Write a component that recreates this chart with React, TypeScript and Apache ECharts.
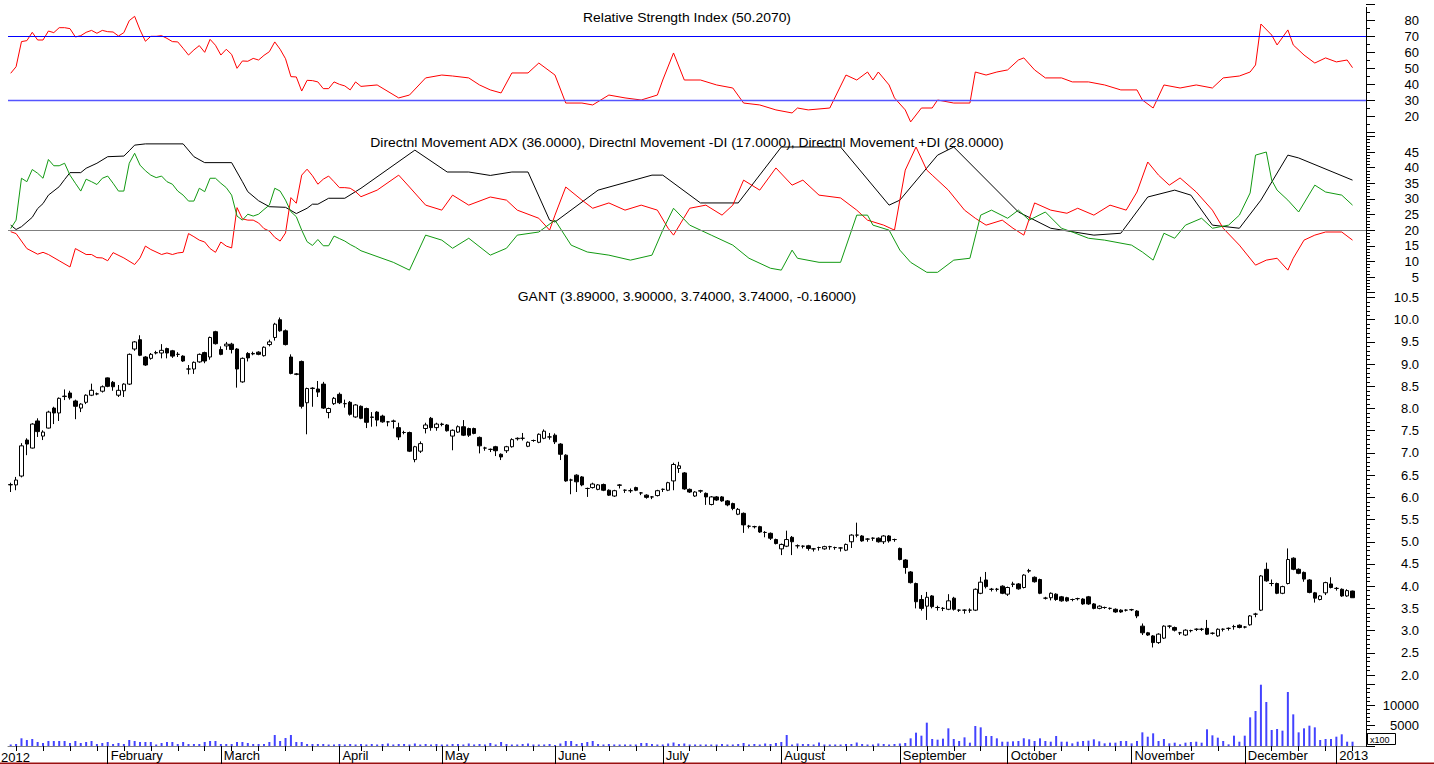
import React, { useEffect, useRef } from "react";
import * as echarts from "echarts";

// ---------- categories / calendar ----------
const SLOTS = 252; // 250 trading days + 2 empty slots before the axis
const monthIdx = [18, 39, 61, 80, 101, 121, 143, 165, 185, 208, 229, 246];
const monthNames = ["February", "March", "April", "May", "June", "July", "August", "September", "October", "November", "December", "2013"];
const weekIdx = [1, 6, 11, 16, 21, 26, 31, 36, 41, 46, 51, 56, 65, 69, 74, 79, 83, 88, 92, 97, 106, 111, 116, 126, 131, 136, 141, 146, 151, 155, 160, 170, 175, 180, 190, 195, 200, 205, 210, 215, 219, 224, 234, 239, 244, 249];

// ---------- price: [open, close, low, high] ----------
const candles: number[][] = [
  [6.28, 6.29, 6.12, 6.33], [6.28, 6.39, 6.16, 6.46], [6.48, 7.16, 6.45, 7.22], [7.29, 7.2, 6.95, 7.33], [7.11, 7.65, 7.1, 7.67],
  [7.72, 7.48, 7.36, 7.78], [7.38, 7.47, 7.29, 7.51], [7.56, 7.92, 7.55, 7.95], [8.01, 7.9, 7.65, 8.04], [7.9, 8.23, 7.72, 8.25],
  [8.27, 8.28, 8.19, 8.43], [8.35, 8.24, 8.2, 8.4], [8.17, 8.05, 7.76, 8.2], [8.01, 8.1, 7.92, 8.12], [8.14, 8.3, 8.1, 8.32],
  [8.3, 8.41, 8.28, 8.56], [8.33, 8.33, 8.3, 8.36], [8.39, 8.49, 8.36, 8.52], [8.69, 8.5, 8.48, 8.7], [8.59, 8.49, 8.4, 8.62],
  [8.3, 8.41, 8.26, 8.53], [8.4, 8.55, 8.26, 8.57], [8.55, 9.22, 8.53, 9.24], [9.34, 9.5, 9.3, 9.52], [9.55, 9.2, 9.18, 9.65],
  [9.16, 8.98, 8.96, 9.18], [9.13, 9.22, 9.1, 9.25], [9.25, 9.26, 9.22, 9.3], [9.25, 9.31, 9.13, 9.45], [9.35, 9.25, 9.13, 9.37],
  [9.3, 9.18, 9.14, 9.32], [9.22, 9.22, 9.16, 9.27], [9.18, 9.07, 9.05, 9.2], [8.89, 8.89, 8.77, 8.98], [8.89, 9.04, 8.78, 9.06],
  [9.05, 9.22, 9.03, 9.24], [9.26, 9.07, 9.02, 9.28], [9.16, 9.6, 9.1, 9.62], [9.73, 9.46, 9.44, 9.75], [9.33, 9.22, 9.2, 9.4],
  [9.41, 9.45, 9.32, 9.5], [9.45, 9.33, 9.24, 9.48], [9.34, 8.89, 8.47, 9.36], [8.6, 9.13, 8.58, 9.15], [9.24, 9.14, 9.06, 9.27],
  [9.23, 9.24, 9.2, 9.28], [9.27, 9.22, 9.2, 9.29], [9.19, 9.38, 9.17, 9.4], [9.44, 9.5, 9.4, 9.55], [9.6, 9.9, 9.53, 9.93],
  [10.0, 9.75, 9.73, 10.05], [9.75, 9.44, 9.42, 9.78], [9.16, 8.79, 8.77, 9.22], [8.78, 8.77, 8.75, 8.8], [9.06, 8.05, 8.0, 9.08],
  [8.13, 8.45, 7.42, 8.47], [8.45, 8.46, 8.04, 8.48], [8.44, 8.37, 8.26, 8.62], [8.55, 8.01, 7.99, 8.6], [7.91, 8.0, 7.78, 8.02],
  [8.11, 8.23, 8.08, 8.26], [8.32, 8.13, 8.1, 8.36], [8.11, 8.11, 8.02, 8.2], [8.14, 7.87, 7.84, 8.17], [7.81, 8.08, 7.79, 8.1],
  [8.05, 7.78, 7.76, 8.07], [8.0, 7.69, 7.56, 8.02], [7.8, 7.81, 7.59, 7.92], [7.92, 7.74, 7.6, 7.94], [7.83, 7.7, 7.68, 7.86],
  [7.7, 7.7, 7.6, 7.72], [7.71, 7.72, 7.55, 7.75], [7.57, 7.36, 7.29, 7.68], [7.46, 7.46, 7.42, 7.5], [7.46, 7.04, 7.02, 7.48],
  [6.85, 7.14, 6.79, 7.16], [7.04, 7.21, 7.0, 7.26], [7.55, 7.63, 7.44, 7.68], [7.78, 7.57, 7.5, 7.81], [7.57, 7.65, 7.5, 7.68],
  [7.64, 7.65, 7.6, 7.68], [7.63, 7.5, 7.48, 7.65], [7.38, 7.51, 7.06, 7.53], [7.47, 7.59, 7.45, 7.62], [7.59, 7.4, 7.38, 7.74],
  [7.55, 7.4, 7.36, 7.57], [7.55, 7.44, 7.42, 7.57], [7.35, 7.16, 6.99, 7.37], [7.11, 7.11, 7.05, 7.14], [7.08, 7.08, 7.02, 7.1],
  [7.14, 7.05, 6.93, 7.16], [6.97, 6.91, 6.84, 6.99], [7.05, 7.14, 7.0, 7.16], [7.14, 7.3, 7.12, 7.33], [7.32, 7.33, 7.28, 7.35],
  [7.33, 7.33, 7.28, 7.45], [7.15, 7.24, 7.13, 7.26], [7.28, 7.28, 7.25, 7.3], [7.24, 7.42, 7.22, 7.44], [7.33, 7.49, 7.31, 7.53],
  [7.36, 7.36, 7.3, 7.45], [7.4, 7.25, 7.2, 7.44], [7.2, 6.97, 6.84, 7.22], [6.95, 6.37, 6.35, 6.97], [6.39, 6.39, 6.07, 6.42],
  [6.5, 6.35, 6.12, 6.52], [6.46, 6.28, 6.25, 6.48], [6.2, 6.2, 6.01, 6.22], [6.22, 6.3, 6.2, 6.33], [6.18, 6.28, 6.16, 6.3],
  [6.29, 6.16, 6.14, 6.31], [6.16, 6.05, 6.03, 6.18], [6.03, 6.15, 6.01, 6.17], [6.27, 6.28, 6.2, 6.3], [6.16, 6.16, 6.1, 6.18],
  [6.15, 6.15, 6.1, 6.2], [6.22, 6.16, 6.14, 6.24], [6.1, 6.1, 6.05, 6.12], [6.05, 6.0, 5.97, 6.07], [6.01, 6.01, 5.96, 6.03],
  [6.04, 6.15, 6.02, 6.17], [6.18, 6.18, 6.12, 6.2], [6.16, 6.33, 6.14, 6.35], [6.37, 6.74, 6.16, 6.78], [6.65, 6.71, 6.55, 6.8],
  [6.55, 6.19, 6.17, 6.57], [6.18, 6.12, 6.1, 6.2], [6.03, 6.12, 6.01, 6.14], [6.14, 6.15, 6.1, 6.17], [6.09, 6.01, 5.83, 6.11],
  [5.84, 6.01, 5.82, 6.03], [6.01, 5.94, 5.92, 6.03], [6.01, 5.92, 5.9, 6.03], [5.92, 5.83, 5.8, 5.94], [5.86, 5.75, 5.71, 5.88],
  [5.62, 5.73, 5.6, 5.76], [5.64, 5.38, 5.2, 5.66], [5.35, 5.35, 5.3, 5.38], [5.34, 5.34, 5.3, 5.36], [5.34, 5.22, 5.2, 5.36],
  [5.21, 5.21, 5.1, 5.24], [5.19, 5.08, 5.04, 5.21], [5.05, 4.96, 4.94, 5.07], [4.84, 4.94, 4.7, 4.96], [4.9, 5.05, 4.88, 5.25],
  [5.1, 5.0, 4.7, 5.13], [4.91, 4.91, 4.85, 4.94], [4.9, 4.9, 4.85, 4.92], [4.91, 4.85, 4.8, 4.93], [4.84, 4.84, 4.78, 4.86],
  [4.87, 4.87, 4.8, 4.89], [4.84, 4.89, 4.82, 4.91], [4.89, 4.89, 4.82, 4.91], [4.87, 4.87, 4.82, 4.89], [4.86, 4.86, 4.78, 4.88],
  [4.81, 4.94, 4.79, 4.96], [5.0, 5.15, 4.86, 5.17], [5.15, 5.15, 5.1, 5.43], [5.13, 5.02, 5.0, 5.15], [5.06, 5.06, 5.0, 5.08],
  [5.08, 5.08, 5.02, 5.1], [5.08, 5.0, 4.98, 5.1], [5.0, 5.13, 4.95, 5.15], [5.13, 5.02, 4.98, 5.15], [5.05, 5.05, 5.0, 5.07],
  [4.85, 4.6, 4.58, 4.87], [4.59, 4.42, 4.28, 4.61], [4.32, 4.08, 4.06, 4.34], [4.06, 3.65, 3.5, 4.08], [3.7, 3.5, 3.45, 3.8],
  [3.55, 3.75, 3.24, 3.87], [3.78, 3.54, 3.5, 3.8], [3.52, 3.52, 3.45, 3.56], [3.5, 3.5, 3.44, 3.53], [3.48, 3.67, 3.46, 3.82],
  [3.73, 3.48, 3.45, 3.76], [3.46, 3.46, 3.42, 3.48], [3.46, 3.46, 3.38, 3.48], [3.46, 3.46, 3.4, 3.5], [3.46, 3.93, 3.44, 3.95],
  [3.84, 4.09, 3.82, 4.21], [4.14, 3.99, 3.95, 4.32], [3.93, 3.93, 3.88, 3.96], [3.93, 3.93, 3.88, 3.96], [4.0, 3.84, 3.82, 4.02],
  [3.82, 3.97, 3.78, 3.99], [4.04, 4.05, 3.98, 4.1], [4.05, 3.94, 3.92, 4.07], [3.97, 4.25, 3.95, 4.27], [4.34, 4.35, 4.3, 4.39],
  [4.2, 4.1, 4.08, 4.22], [4.15, 3.84, 3.82, 4.17], [3.73, 3.73, 3.7, 3.76], [3.74, 3.84, 3.68, 3.86], [3.82, 3.7, 3.67, 3.84],
  [3.76, 3.67, 3.65, 3.78], [3.74, 3.67, 3.65, 3.76], [3.7, 3.7, 3.66, 3.72], [3.72, 3.72, 3.68, 3.74], [3.71, 3.6, 3.58, 3.73],
  [3.76, 3.6, 3.58, 3.78], [3.6, 3.5, 3.48, 3.62], [3.5, 3.55, 3.48, 3.57], [3.52, 3.52, 3.49, 3.54], [3.5, 3.5, 3.47, 3.52],
  [3.48, 3.42, 3.4, 3.5], [3.46, 3.42, 3.4, 3.48], [3.46, 3.46, 3.43, 3.48], [3.47, 3.47, 3.44, 3.49], [3.44, 3.33, 3.28, 3.46],
  [3.1, 2.95, 2.9, 3.16], [2.95, 2.9, 2.88, 2.97], [2.88, 2.73, 2.62, 2.9], [2.73, 2.92, 2.7, 2.94], [2.83, 3.1, 2.81, 3.12],
  [3.1, 3.1, 3.05, 3.12], [3.07, 3.01, 2.98, 3.09], [2.95, 2.95, 2.9, 2.97], [2.9, 3.01, 2.88, 3.03], [3.0, 3.0, 2.96, 3.02],
  [3.03, 3.03, 2.99, 3.05], [3.03, 3.03, 2.99, 3.06], [3.05, 2.92, 2.9, 3.24], [2.94, 2.94, 2.91, 2.96], [2.88, 3.03, 2.86, 3.05],
  [3.03, 3.03, 2.98, 3.05], [3.05, 3.05, 3.0, 3.07], [3.09, 3.09, 3.02, 3.13], [3.12, 3.07, 3.05, 3.14], [3.08, 3.08, 3.05, 3.1],
  [3.13, 3.33, 3.11, 3.35], [3.37, 3.37, 3.3, 3.4], [3.46, 4.23, 3.44, 4.25], [4.38, 4.12, 4.1, 4.53], [4.06, 4.06, 4.0, 4.15],
  [4.06, 3.84, 3.82, 4.08], [3.84, 3.99, 3.82, 4.01], [4.06, 4.6, 4.04, 4.85], [4.63, 4.38, 4.36, 4.65], [4.38, 4.29, 4.27, 4.4],
  [4.31, 4.16, 4.1, 4.33], [4.14, 3.86, 3.84, 4.16], [3.85, 3.73, 3.63, 3.87], [3.7, 3.78, 3.68, 3.8], [3.85, 4.08, 3.8, 4.1],
  [4.05, 3.97, 3.95, 4.2], [3.95, 3.95, 3.9, 3.98], [3.93, 3.78, 3.76, 3.95], [3.78, 3.9, 3.76, 3.93], [3.89, 3.74, 3.74, 3.9],
];

// ---------- volume (x100) ----------
const volume = [
  370, 490, 1880, 1460, 1710, 980, 730, 1220, 1220, 1220, 1220, 730, 1220, 730, 980, 1220, 490, 730, 980, 490,
  730, 490, 1460, 1220, 980, 980, 980, 370, 730, 980, 980, 490, 980, 490, 490, 490, 980, 1220, 1220, 490,
  490, 490, 980, 980, 730, 490, 490, 490, 980, 2680, 1220, 1950, 2680, 980, 980, 490, 490, 490, 490, 370,
  370, 490, 370, 490, 370, 490, 370, 490, 370, 490, 610, 370, 490, 490, 370, 610, 370, 490, 370, 490,
  370, 370, 490, 490, 370, 610, 370, 490, 370, 730, 370, 980, 490, 370, 370, 490, 610, 370, 370, 370,
  490, 240, 610, 1220, 1220, 490, 730, 980, 1220, 490, 370, 490, 370, 370, 370, 370, 370, 730, 730, 490,
  370, 370, 610, 850, 490, 610, 370, 370, 370, 370, 370, 370, 490, 370, 370, 490, 730, 370, 490, 370,
  610, 490, 730, 980, 2680, 370, 610, 490, 490, 370, 850, 370, 370, 370, 370, 490, 490, 850, 490, 370,
  370, 610, 490, 370, 490, 610, 730, 1870, 3250, 2520, 5690, 1710, 1540, 1790, 4310, 1710, 1220, 2110, 810, 4880,
  4550, 2440, 2440, 1870, 1050, 1050, 1140, 1220, 1870, 1630, 1220, 1870, 1220, 1050, 2440, 1050, 1050, 650, 1050, 1220,
  1300, 1630, 1140, 650, 810, 810, 1220, 1220, 650, 1220, 3330, 2270, 3090, 1220, 1710, 650, 810, 410, 810, 980,
  1050, 810, 4070, 2600, 2030, 1220, 410, 2520, 1050, 2520, 6990, 8540, 14950, 10730, 3900, 4150, 3740, 13170, 7720, 3330,
  4310, 4960, 4550, 1460, 1710, 1710, 2270, 2850, 1050, 1050,
];

// ---------- indicators: [day index, value] ----------
const rsi: number[][] = [
  [0, 46.7], [1, 50.8], [2, 66.5], [3, 67.1], [4, 72.3], [5, 67.5], [6, 67.5], [7, 73.1], [8, 72.1], [9, 75.2],
  [10, 75.2], [11, 74.6], [12, 69.4], [13, 70.2], [14, 72.3], [15, 73.5], [16, 71.7], [17, 73.5], [18, 72.7], [19, 72.5],
  [20, 70], [21, 72.1], [22, 79.6], [23, 82.3], [24, 73.8], [25, 66.7], [26, 69.8], [27, 69.8], [28, 70.2], [29, 68.5],
  [30, 66.5], [31, 66.3], [32, 62.3], [33, 58.1], [34, 61.3], [35, 64], [36, 59.8], [37, 67.9], [38, 64.2], [39, 58.1],
  [40, 61.7], [41, 58.5], [42, 49.8], [43, 54.4], [44, 54.2], [45, 56], [46, 55], [47, 57.9], [48, 60.2], [49, 66.3],
  [50, 61.7], [51, 55.8], [52, 44.6], [53, 44.4], [54, 35.6], [55, 42.3], [56, 42.1], [57, 41.3], [58, 37.1], [59, 37.1],
  [60, 41.3], [61, 39.8], [62, 38.8], [63, 36.3], [64, 41.3], [65, 38.5], [68, 39.4], [72, 31.3], [74, 33.1], [77, 43.8],
  [80, 45.6], [82, 45], [85, 43.8], [87, 39.4], [89, 36.3], [91, 34.4], [93, 46.9], [96, 46.9], [98, 53.1], [101, 45.6],
  [103, 28.1], [106, 28.1], [108, 26.9], [111, 33.1], [114, 31.3], [117, 30], [120, 33.1], [121, 42.5], [123, 59.4], [125, 42.5],
  [128, 42.5], [131, 39.4], [134, 37.5], [136, 28.1], [139, 26.9], [142, 23.8], [145, 21.9], [146, 25], [148, 23.8], [152, 25],
  [155, 45.6], [157, 42.5], [159, 47.5], [160, 42.5], [161, 47.5], [163, 39.4], [164, 31.3], [166, 23.8], [167, 16.3], [169, 25],
  [171, 25], [172, 30], [175, 28.1], [178, 28.1], [179, 47.5], [181, 45.6], [183, 47.5], [185, 48.8], [187, 55], [188, 56.3],
  [190, 48.8], [192, 43.8], [195, 43.8], [197, 41.3], [200, 41.3], [203, 39.4], [206, 36.3], [209, 36.3], [210, 30], [212, 25],
  [214, 39.4], [217, 37.5], [220, 39.4], [223, 37.5], [225, 43.8], [228, 45], [230, 47.5], [231, 51.9], [232, 77.5], [234, 70.6],
  [235, 64.4], [237, 73.8], [238, 64.4], [240, 58.1], [242, 53.1], [244, 56.3], [246, 53.8], [248, 55], [249, 50.2],
];
const adx: number[][] = [
  [0, 21.6], [1, 20.2], [2, 21.1], [4, 24.1], [5, 26.9], [6, 28.5], [7, 31.2], [9, 33.9], [10, 36.2], [11, 38.4],
  [13, 38.4], [14, 39.8], [16, 41.4], [18, 43.5], [21, 43.7], [22, 45.4], [23, 47.2], [25, 47.6], [32, 47.6], [34, 43.5],
  [36, 41.6], [41, 41.6], [43, 35.5], [44, 32.3], [46, 29.4], [48, 27.5], [51, 27.3], [53, 25.3], [55, 27], [56, 28.3],
  [57, 28.3], [59, 30.2], [62, 30.2], [65, 33.4], [75, 45.6], [81, 38.6], [85, 38.6], [89, 37.5], [93, 38.6], [96, 38.6],
  [100, 23.2], [101, 22.6], [109, 32.8], [119, 37.6], [121, 37.6], [128, 28.7], [135, 28.7], [143, 46.6], [154, 46.6], [163, 28],
  [165, 29.6], [172, 44], [175, 46.6], [187, 25.8], [193, 20.6], [201, 18.4], [206, 19], [211, 30.6], [216, 32.8], [219, 31.2],
  [223, 21.6], [228, 20.6], [232, 29.6], [237, 44], [239, 43.1], [249, 36],
];
const plusDI: number[][] = [
  [0, 20.5], [1, 23.2], [2, 36.6], [3, 35.5], [4, 39.4], [5, 38.2], [6, 36.6], [7, 42.6], [8, 40.6], [9, 40.6],
  [10, 41.4], [11, 37.6], [12, 35], [13, 32.5], [14, 36.3], [15, 35.5], [16, 34.6], [17, 36.6], [18, 37.3], [19, 35],
  [20, 32.5], [21, 32.5], [22, 41.4], [23, 44.6], [24, 40.8], [25, 39], [26, 37.6], [27, 36.8], [28, 37.3], [29, 35.5],
  [30, 34.7], [31, 32.5], [32, 31.2], [33, 29.3], [34, 29.3], [35, 33.4], [36, 32.3], [37, 36.6], [38, 36.6], [39, 35],
  [40, 33.6], [41, 31.2], [42, 24.5], [43, 23.2], [44, 25.1], [45, 24.5], [46, 25.1], [47, 26.6], [48, 28], [49, 33.4],
  [50, 32.5], [51, 29.6], [52, 25.9], [53, 24.3], [54, 20], [55, 16.3], [56, 15.1], [57, 17], [58, 15], [59, 15],
  [60, 18.1], [61, 17.3], [62, 16.5], [63, 15.4], [64, 14.5], [65, 13.4], [71, 9.7], [74, 7.2], [77, 18.4], [80, 16.8],
  [82, 14.2], [85, 17.4], [89, 12], [92, 14.2], [94, 18.4], [98, 19.4], [101, 23.2], [104, 15.2], [107, 13], [111, 12],
  [115, 10.4], [119, 12], [121, 20], [123, 27], [126, 21.6], [130, 18.4], [134, 15.2], [137, 11], [141, 7.8], [143, 7.2],
  [145, 13.6], [146, 11], [150, 9.7], [154, 9.7], [157, 24.8], [159, 24.8], [160, 21.6], [163, 20], [165, 13.6], [167, 9.7],
  [170, 6.5], [172, 6.5], [175, 10.4], [178, 11], [180, 24.8], [182, 26.4], [185, 23.8], [187, 26.4], [189, 23.2], [192, 25.8],
  [195, 20.6], [197, 19.4], [200, 17.4], [203, 16.8], [208, 15.2], [210, 13], [212, 10.4], [214, 19], [216, 17.4], [218, 21.6],
  [221, 23.8], [223, 20.6], [226, 21.6], [228, 24.8], [230, 31.9], [231, 44], [233, 45], [234, 36], [235, 32.8], [237, 29.6],
  [239, 25.8], [242, 34.4], [244, 32.2], [247, 31.2], [249, 28],
];
const minusDI: number[][] = [
  [0, 19.5], [1, 18.9], [3, 14.1], [5, 12.3], [6, 12.9], [7, 12.2], [9, 10.2], [11, 8.2], [12, 14.1], [14, 12.2],
  [15, 12.2], [16, 11.2], [17, 11.1], [18, 10.2], [19, 12.8], [21, 11.1], [23, 9], [24, 11.1], [25, 14.9], [26, 13.8],
  [28, 12.2], [29, 12.7], [30, 12.2], [31, 12.7], [32, 12.9], [33, 18.9], [34, 17.9], [35, 16.8], [36, 16.2], [37, 14.1],
  [38, 12.9], [39, 16.2], [40, 14.9], [41, 14.3], [42, 27.2], [43, 23.6], [44, 23.2], [45, 23.2], [46, 22.3], [47, 20.5],
  [48, 19.7], [49, 17.7], [50, 16.5], [51, 19.1], [52, 30.4], [53, 28.6], [54, 37.6], [55, 39.5], [56, 37.4], [57, 34.7],
  [58, 36.3], [59, 37.3], [60, 35.5], [61, 33.6], [62, 33.6], [63, 33.4], [64, 32.3], [65, 30.7], [68, 32.8], [72, 37.6],
  [74, 33.8], [77, 28], [80, 26.4], [82, 31.2], [85, 28], [89, 30.6], [92, 29.6], [94, 26.4], [98, 23.8], [100, 20],
  [101, 24.8], [103, 33.8], [106, 29.6], [108, 27], [111, 28.7], [114, 26.4], [117, 28], [120, 26.4], [122, 20.6], [123, 18.4],
  [126, 27], [129, 28], [132, 24.8], [134, 28], [136, 36], [139, 32.8], [142, 39.9], [145, 34.4], [147, 36], [150, 31.2],
  [154, 30.3], [157, 26.4], [159, 23.2], [162, 21.6], [164, 20], [166, 39.2], [168, 46.6], [170, 39.2], [171, 37.6], [174, 32.8],
  [177, 26.4], [179, 23.8], [181, 21.6], [184, 23.2], [186, 20.6], [188, 18.4], [190, 28.7], [193, 26.4], [196, 25.4], [198, 27],
  [201, 24.8], [204, 28], [207, 26.4], [209, 32.2], [211, 41.8], [213, 37.6], [215, 34.4], [217, 36.7], [220, 32.2], [223, 26.4],
  [225, 20.6], [228, 15.2], [231, 8.8], [233, 10.4], [235, 11], [237, 7.2], [238, 11], [240, 16.8], [242, 18.4], [244, 19.4],
  [247, 19.4], [249, 16.8],
];

const rsiLevels = [70, 30];
const dmiLevel = 20;

const FONT = '"Liberation Sans", Arial, Helvetica, sans-serif';

export default function App() {
  const ref = useRef<HTMLDivElement>(null);

  useEffect(() => {
    const chart = echarts.init(ref.current!, null, { renderer: "svg" });
    const cats = Array.from({ length: SLOTS }, (_, i) => String(i));
    const L = 8;
    const R = 68;

    const hiddenX = (gi: number) => ({
      type: "category", gridIndex: gi, data: cats, boundaryGap: true, show: false,
    });
    const yAx = (gi: number, min: number, max: number, interval: number, split: number, fmt: (v: number) => string, hideEnds: boolean) => ({
      type: "value", gridIndex: gi, position: "right", min, max, interval,
      axisLine: { show: false },
      axisTick: { show: true, length: 9, lineStyle: { color: "#000", width: 1 } },
      minorTick: { show: true, splitNumber: split, length: 4, lineStyle: { color: "#000", width: 1 } },
      splitLine: { show: false },
      axisLabel: {
        color: "#000", fontFamily: FONT, fontSize: 13, align: "right", margin: 53, formatter: fmt,
        showMinLabel: !hideEnds, showMaxLabel: !hideEnds,
      },
    });

    const title = (text: string, y: number) => ({
      type: "text", x: 687, y, scaleX: 1.16, z: 100,
      style: { text, fill: "#000", font: `12px ${FONT}`, align: "center", verticalAlign: "middle" },
    });

    chart.setOption({
      animation: false,
      backgroundColor: "#ffffff",
      grid: [
        { left: L, right: R, top: 4, height: 128 },
        { left: L, right: R, top: 136.375, height: 156.25 },
        { left: L, right: R, top: 297.5, height: 377.5 },
        { left: L, right: R, top: 684.5, height: 61.5 },
        { left: L, right: R, top: 684.5, height: 61.5 },
      ],
      xAxis: [
        hiddenX(0),
        hiddenX(1),
        hiddenX(2),
        {
          type: "category", gridIndex: 3, data: cats, boundaryGap: true,
          axisLine: { show: true, lineStyle: { color: "#808080", width: 1 } },
          axisTick: { show: true, alignWithLabel: true, length: 5, interval: (i: number) => weekIdx.includes(i), lineStyle: { color: "#000" } },
          axisLabel: { show: false, interval: (i: number) => weekIdx.includes(i) },
        },
        {
          type: "category", gridIndex: 4, data: cats, boundaryGap: true,
          axisLine: { show: false },
          axisTick: { show: true, alignWithLabel: true, length: 18, interval: (i: number) => monthIdx.includes(i), lineStyle: { color: "#000" } },
          axisLabel: {
            show: true, interval: (i: number) => monthIdx.includes(i),
            formatter: (v: string) => monthNames[monthIdx.indexOf(Number(v))] ?? "",
            align: "left", margin: 3, padding: [0, 0, 0, 3],
            color: "#000", fontFamily: FONT, fontSize: 13,
          },
        },
      ],
      yAxis: [
        yAx(0, 10, 90, 10, 2, (v) => String(v), true),
        yAx(1, 0, 50, 5, 5, (v) => String(v), true),
        yAx(2, 2, 10.5, 0.5, 5, (v) => v.toFixed(1), false),
        yAx(3, 0, 15000, 5000, 5, (v) => String(v), true),
        { type: "value", gridIndex: 4, show: false },
      ],
      series: [
        {
          name: "RSI", type: "line", xAxisIndex: 0, yAxisIndex: 0, data: rsi, symbol: "none", clip: false,
          lineStyle: { color: "#ff0000", width: 1 },
          markLine: {
            silent: true, symbol: "none", label: { show: false },
            data: rsiLevels.map((lv, k) => ({ yAxis: lv, lineStyle: { color: k === 0 ? "#0000ff" : "#5555ff", width: k === 0 ? 1 : 1.4, type: "solid" } })),
          },
        },
        {
          name: "ADX", type: "line", xAxisIndex: 1, yAxisIndex: 1, data: adx, symbol: "none", clip: false,
          lineStyle: { color: "#000000", width: 1 },
          markLine: {
            silent: true, symbol: "none", label: { show: false },
            data: [{ yAxis: dmiLevel, lineStyle: { color: "#808080", width: 1, type: "solid" } }],
          },
        },
        {
          name: "-DI", type: "line", xAxisIndex: 1, yAxisIndex: 1, data: minusDI, symbol: "none", clip: false,
          lineStyle: { color: "#ff0000", width: 1 },
        },
        {
          name: "+DI", type: "line", xAxisIndex: 1, yAxisIndex: 1, data: plusDI, symbol: "none", clip: false,
          lineStyle: { color: "#129a12", width: 1 },
        },
        {
          name: "GANT", type: "candlestick", xAxisIndex: 2, yAxisIndex: 2, data: candles, barWidth: 4,
          itemStyle: { color: "#ffffff", color0: "#000000", borderColor: "#000000", borderColor0: "#000000", borderWidth: 1 },
        },
        {
          name: "Volume", type: "bar", xAxisIndex: 3, yAxisIndex: 3, data: volume, barWidth: 2,
          itemStyle: { color: "#4343ff" },
        },
      ],
      graphic: [
        { type: "line", z: 50, shape: { x1: 1366.5, y1: 7, x2: 1366.5, y2: 746 }, style: { stroke: "#000", lineWidth: 1 } },
        title("Relative Strength Index (50.2070)", 18),
        title("Directnl Movement ADX (36.0000), Directnl Movement -DI (17.0000), Directnl Movement +DI (28.0000)", 143),
        title("GANT (3.89000, 3.90000, 3.74000, 3.74000, -0.16000)", 297),
        { type: "text", x: 1, y: 757, style: { text: "2012", fill: "#000", font: `13px ${FONT}`, align: "left", verticalAlign: "middle" } },
        { type: "rect", z: 50, shape: { x: 1367.5, y: 733.5, width: 28, height: 11 }, style: { fill: "#fff", stroke: "#000", lineWidth: 1 } },
        { type: "text", z: 51, x: 1370, y: 739.5, style: { text: "x100", fill: "#000", font: `9px ${FONT}`, align: "left", verticalAlign: "middle" } },
        { type: "rect", shape: { x: 0, y: 762.5, width: 1434, height: 1.5 }, style: { fill: "#9a1010" } },
      ],
    });

    return () => chart.dispose();
  }, []);

  return <div ref={ref} style={{ position: "absolute", left: 0, top: 0, width: 1434, height: 764 }} />;
}
